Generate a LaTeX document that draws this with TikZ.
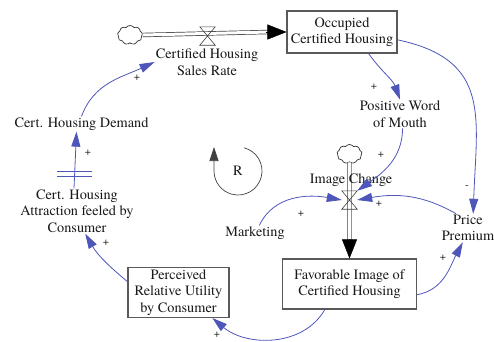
\documentclass[tikz,border=0pt]{standalone}
\usepackage{fontspec}
\IfFontExistsTF{TeX Gyre Termes}{\setmainfont{TeX Gyre Termes}}{\setmainfont{Liberation Serif}}
\usetikzlibrary{arrows.meta,shapes.symbols}
\definecolor{linkblue}{RGB}{78,86,186}
\begin{document}
\begin{tikzpicture}[x=1pt,y=1pt,
  every node/.style={font=\rmfamily\fontsize{14.3pt}{16.5pt}\selectfont, text=black!90},
  varlabel/.style={align=center, inner sep=1pt},
  stockbox/.style={draw=black!65, line width=1.1pt, align=center, inner sep=2pt},
  source/.style={cloud, cloud puffs=9, cloud puff arc=110, draw=black!80, line width=0.7pt,
    fill=white, minimum width=25pt, minimum height=19pt, inner sep=0pt, aspect=1.3},
  valvebox/.style={minimum width=15pt, minimum height=18pt, inner sep=0pt},
  valveline/.style={draw=black!75, line width=0.6pt},
  pipe/.style={draw=black!75, line width=0.7pt, double=white, double distance=3pt},
  flowhead/.style={-{Triangle[length=19pt,width=15pt]}, line width=0.4pt, draw=black},
  link/.style={draw=linkblue, line width=0.8pt, -{Triangle[length=15pt,width=9pt]}},
  sign/.style={font=\rmfamily\fontsize{11pt}{12pt}\selectfont, inner sep=0pt},
]
\useasboundingbox (0,0) rectangle (494,-341);

% stocks, sources and flow valves
\node[source] (cloudA) at (130,-35) {};
\node[valvebox] (vA) at (207.5,-36) {};
\node[stockbox, minimum width=110pt, minimum height=42pt] (occ) at (342,-32) {Occupied\\Certified Housing};
\node[source] (cloudB) at (349.5,-154) {};
\node[valvebox] (vB) at (349.5,-200) {};
\node[stockbox, minimum width=134pt, minimum height=50pt] (fav) at (349.5,-284) {Favorable Image of\\Certified Housing};
\node[stockbox, minimum width=101pt, minimum height=49pt] (perc) at (178.5,-292.5) {Perceived\\Relative Utility\\by Consumer};

% flow pipes
\draw[pipe] (cloudA.east) -- ([xshift=-18pt]occ.west);
\draw[flowhead] ([xshift=-20pt]occ.west) -- (occ.west);
\draw[pipe] (cloudB.south) -- ([yshift=17pt]fav.north);
\draw[flowhead] ([yshift=19pt]fav.north) -- (fav.north);

% valves
\draw[valveline] (vA.north west) -- (vA.north east) -- (vA.south west) -- (vA.south east) -- cycle;
\draw[valveline] (vB.north west) -- (vB.north east) -- (vB.south west) -- (vB.south east) -- cycle;

% variables
\node[varlabel] (sales) at (207,-62) {Certified Housing\\Sales Rate};
\node[varlabel] (imgch) at (351,-180) {Image Change};
\node[varlabel] (pwom) at (400,-114) {Positive Word\\of Mouth};
\node[varlabel] (price) at (468,-228) {Price\\Premium};
\node[varlabel] (mkt) at (255,-233) {Marketing};
\node[varlabel] (attr) at (77,-211) {Cert. Housing\\Attraction feeled by\\Consumer};
\node[varlabel] (dem) at (81.5,-124) {Cert. Housing Demand};
\node (R) at (238,-171) {R};

% causal links
\draw[link] (occ.-39) to[out=-55, in=110] (pwom.north);
\draw[link] (pwom.-80) to[out=-90, in=35] (vB.north east);
\draw[link] (occ.-8) to[out=-12, in=88, looseness=1.3] (price.70);
\draw[link] (price.130) to[out=150, in=10] (vB.east);
\draw[link] (fav.-9) to[out=10, in=-118] (price.250);
\draw[link] (mkt.60) to[out=65, in=170] (vB.west);
\draw[link] (fav.226) to[out=-120, in=-40] (perc.-37);
\draw[link] (perc.168) to[out=140, in=-60] (attr.-70);
\draw[link] ([xshift=-3pt]attr.north) -- ([xshift=-5pt]dem.south);
\draw[link] (dem.north) to[out=70, in=205] (sales.west);

% delay mark
\coordinate (dly) at (75,-173.5);
\draw[draw=linkblue, line width=0.7pt] ([shift={(-18,2.5)}]dly) -- ([shift={(17,2.5)}]dly)
  ([shift={(-18,-2.5)}]dly) -- ([shift={(17,-2.5)}]dly);

% loop marker
\draw[draw=black!75, line width=0.7pt, -{Triangle[length=14pt,width=9pt]}]
  (R) ++(75:24) arc[start angle=75, end angle=-180, radius=24] -- ++(0,24);

% polarities
\node[sign] (s1) at (374,-87) {+};
\node[sign] (s2) at (381,-155) {+};
\node[sign] (s3) at (467,-187) {-};
\node[sign] (s4) at (379,-204) {+};
\node[sign] (s5) at (443,-258) {+};
\node[sign] (s6) at (301,-214) {+};
\node[sign] (s7) at (217,-335) {+};
\node[sign] (s8) at (106,-243) {+};
\node[sign] (s9) at (88,-153) {+};
\node[sign] (s10) at (137,-78) {+};
\end{tikzpicture}
\end{document}
